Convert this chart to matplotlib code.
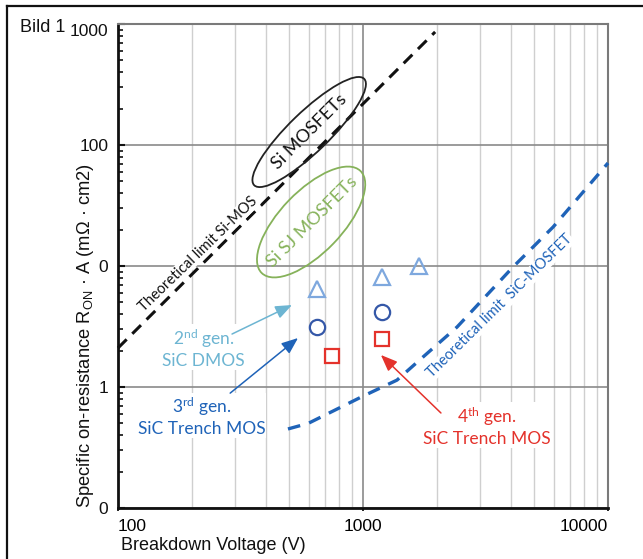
import matplotlib
matplotlib.use('Agg')
import matplotlib.pyplot as plt
from matplotlib.patches import Ellipse
from matplotlib.transforms import ScaledTranslation
from matplotlib.lines import Line2D
from matplotlib.ticker import LogLocator, NullFormatter

# ---------------- data ----------------
si_limit_v = [100, 1970]
si_limit_r = [2.1, 860]

sic_limit_v = [494, 597, 1000, 1376, 1758, 2420, 4093, 5970, 10000]
sic_limit_r = [0.45, 0.50, 0.84, 1.14, 1.77, 3.13, 9.8, 21, 71]

gen2_v = [649, 1197, 1694]
gen2_r = [6.46, 8.1, 10.0]
gen3_v = [649, 1197]
gen3_r = [3.13, 4.17]
gen4_v = [747, 1197]
gen4_r = [1.8, 2.49]

y_ticks = [0.1, 1, 10, 100, 1000]
y_tick_labels = ['0', '1', '0', '100', '1000']
x_ticks = [100, 1000, 10000]
x_tick_labels = ['100', '1000', '10000']

# ---------------- style ----------------
plt.rcParams['font.family'] = ['Liberation Sans', 'DejaVu Sans']
plt.rcParams['mathtext.default'] = 'regular'
ANN = ['Lato', 'DejaVu Sans']

C_BLACK = '#111111'
C_LBLUE_T = '#6db5d2'
C_TRI = '#7ea8de'
C_CIRC = '#3558a8'
C_DBLUE = '#1f63b8'
C_RED = '#e4322b'
C_GREEN = '#86b25a'

fig = plt.figure(figsize=(6.43, 5.59), dpi=100)
ax = fig.add_axes([118 / 643, 51 / 559, 490 / 643, 484 / 559])
ax.set_xscale('log')
ax.set_yscale('log')
ax.set_xlim(100, 10000)
ax.set_ylim(0.1, 1000)

# grid
ax.xaxis.set_minor_locator(LogLocator(base=10, subs=range(2, 10), numticks=20))
ax.yaxis.set_minor_locator(LogLocator(base=10, subs=range(2, 10), numticks=20))
ax.xaxis.set_minor_formatter(NullFormatter())
ax.yaxis.set_minor_formatter(NullFormatter())
ax.grid(which='minor', axis='x', color='#cfcfcf', lw=1.0, zorder=0)
ax.grid(which='major', axis='x', color='#8a8a8a', lw=1.2, zorder=0)
ax.grid(which='major', axis='y', color='#8a8a8a', lw=1.2, zorder=0)
ax.set_axisbelow(True)

ax.set_xticks(x_ticks)
ax.set_xticklabels(x_tick_labels, fontsize=12.5)
ax.set_yticks(y_ticks)
ax.set_yticklabels(y_tick_labels, fontsize=12.5)
xl = ax.get_xticklabels()
xl[0].set_ha('left')
xl[-1].set_ha('right')
yl = ax.get_yticklabels()
yl[-1].set_va('top')

ax.tick_params(axis='y', which='major', direction='in', length=5, width=1.5, pad=7, colors='#111111')
ax.tick_params(axis='y', which='minor', direction='in', length=3.5, width=1.2, color='#111111')
ax.tick_params(axis='x', which='major', direction='out', length=2, width=1.2, pad=6)
ax.tick_params(axis='x', which='minor', length=0)

for s in ['left', 'bottom']:
    ax.spines[s].set_color('#111111')
    ax.spines[s].set_linewidth(2)
for s in ['top', 'right']:
    ax.spines[s].set_color('#7a7a7a')
    ax.spines[s].set_linewidth(1.5)

# lines
ax.plot(si_limit_v, si_limit_r, color=C_BLACK, lw=2.2, dashes=(4, 2.6), clip_on=False, zorder=3)
ax.plot(sic_limit_v, sic_limit_r, color=C_DBLUE, lw=2.4, dashes=(3.8, 2.8), clip_on=False, zorder=3)

# markers
ax.plot(gen2_v, gen2_r, ls='none', marker='^', ms=11, mfc='none', mec=C_TRI, mew=1.6, zorder=4)
ax.plot(gen3_v, gen3_r, ls='none', marker='o', ms=11, mfc='none', mec=C_CIRC, mew=1.6, zorder=4)
ax.plot(gen4_v, gen4_r, ls='none', marker='s', ms=10.5, mfc='none', mec=C_RED, mew=1.6, zorder=4)

# ellipses (sizes in inches, centre in data coords)
def ellipse(xc, yc, w, h, ang, col):
    tr = fig.dpi_scale_trans + ScaledTranslation(xc, yc, ax.transData)
    e = Ellipse((0, 0), w, h, angle=ang, transform=tr, fill=False, ec=col, lw=1.3, zorder=5)
    ax.add_patch(e)

ellipse(603, 128, 1.53, 0.40, 44, '#222222')
ellipse(614, 23.1, 1.42, 0.62, 46, C_GREEN)

ax.text(605, 130, 'Si MOSFETs', rotation=45, ha='center', va='center', fontsize=13,
        family=ANN, color='#111111', zorder=6)
ax.text(620, 23, 'Si SJ MOSFETs', rotation=45, ha='center', va='center', fontsize=13,
        family=ANN, color=C_GREEN, zorder=6)

wb = dict(facecolor='white', edgecolor='none', pad=0.5)
ax.text(212, 12.6, 'Theoretical limit Si-MOS', rotation=44, ha='center', va='center',
        fontsize=10.5, family=ANN, color='#111111', bbox=wb, zorder=6, rotation_mode='anchor')
ax.text(3622, 4.67, 'Theoretical limit  SiC-MOSFET', rotation=44.5, ha='center', va='center',
        fontsize=10.5, family=ANN, color=C_DBLUE, bbox=wb, zorder=6, rotation_mode='anchor')

# generation labels and arrows
ax.text(224, 2.1, '2$^{nd}$ gen.\nSiC DMOS', ha='center', va='center', fontsize=12.5,
        family=ANN, color=C_LBLUE_T, linespacing=1.25, bbox=wb, zorder=6)
ax.text(220, 0.575, '3$^{rd}$ gen.\nSiC Trench MOS', ha='center', va='center', fontsize=12.5,
        family=ANN, color=C_DBLUE, linespacing=1.25, bbox=wb, zorder=6)
ax.text(3206, 0.476, '4$^{th}$ gen.\nSiC Trench MOS', ha='center', va='center', fontsize=12.5,
        family=ANN, color=C_RED, linespacing=1.25, bbox=wb, zorder=6)

aprops = lambda c: dict(arrowstyle='-|>,head_length=1.0,head_width=0.4', color=c, lw=1.1,
                        shrinkA=0, shrinkB=0)
ax.annotate('', xy=(513, 4.76), xytext=(292, 2.74), arrowprops=aprops(C_LBLUE_T), zorder=6)
ax.annotate('', xy=(543, 2.54), xytext=(287, 0.89), arrowprops=aprops(C_DBLUE), zorder=6)
ax.annotate('', xy=(1183, 1.84), xytext=(2080, 0.61), arrowprops=aprops(C_RED), zorder=6)

# axis labels
fig.text(86 / 643, 51 / 559, 'Specific on-resistance R$_{ON}$ · A (mΩ · cm2)', rotation=90,
         ha='center', va='bottom', fontsize=13.2, color='#111111')
fig.text(121 / 643, 1 - 545 / 559, 'Breakdown Voltage (V)', ha='left', va='center',
         fontsize=13, color='#111111')
fig.text(20 / 643, 1 - 28 / 559, 'Bild 1', ha='left', va='center', fontsize=13, color='#111111')

# figure border (top and left)
fig.add_artist(Line2D([7 / 643, 1], [1 - 6 / 559, 1 - 6 / 559], transform=fig.transFigure,
                      color='#111111', lw=1.6))
fig.add_artist(Line2D([7 / 643, 7 / 643], [0, 1 - 6 / 559], transform=fig.transFigure,
                      color='#111111', lw=1.6))

fig.savefig('out.png', dpi=100)
